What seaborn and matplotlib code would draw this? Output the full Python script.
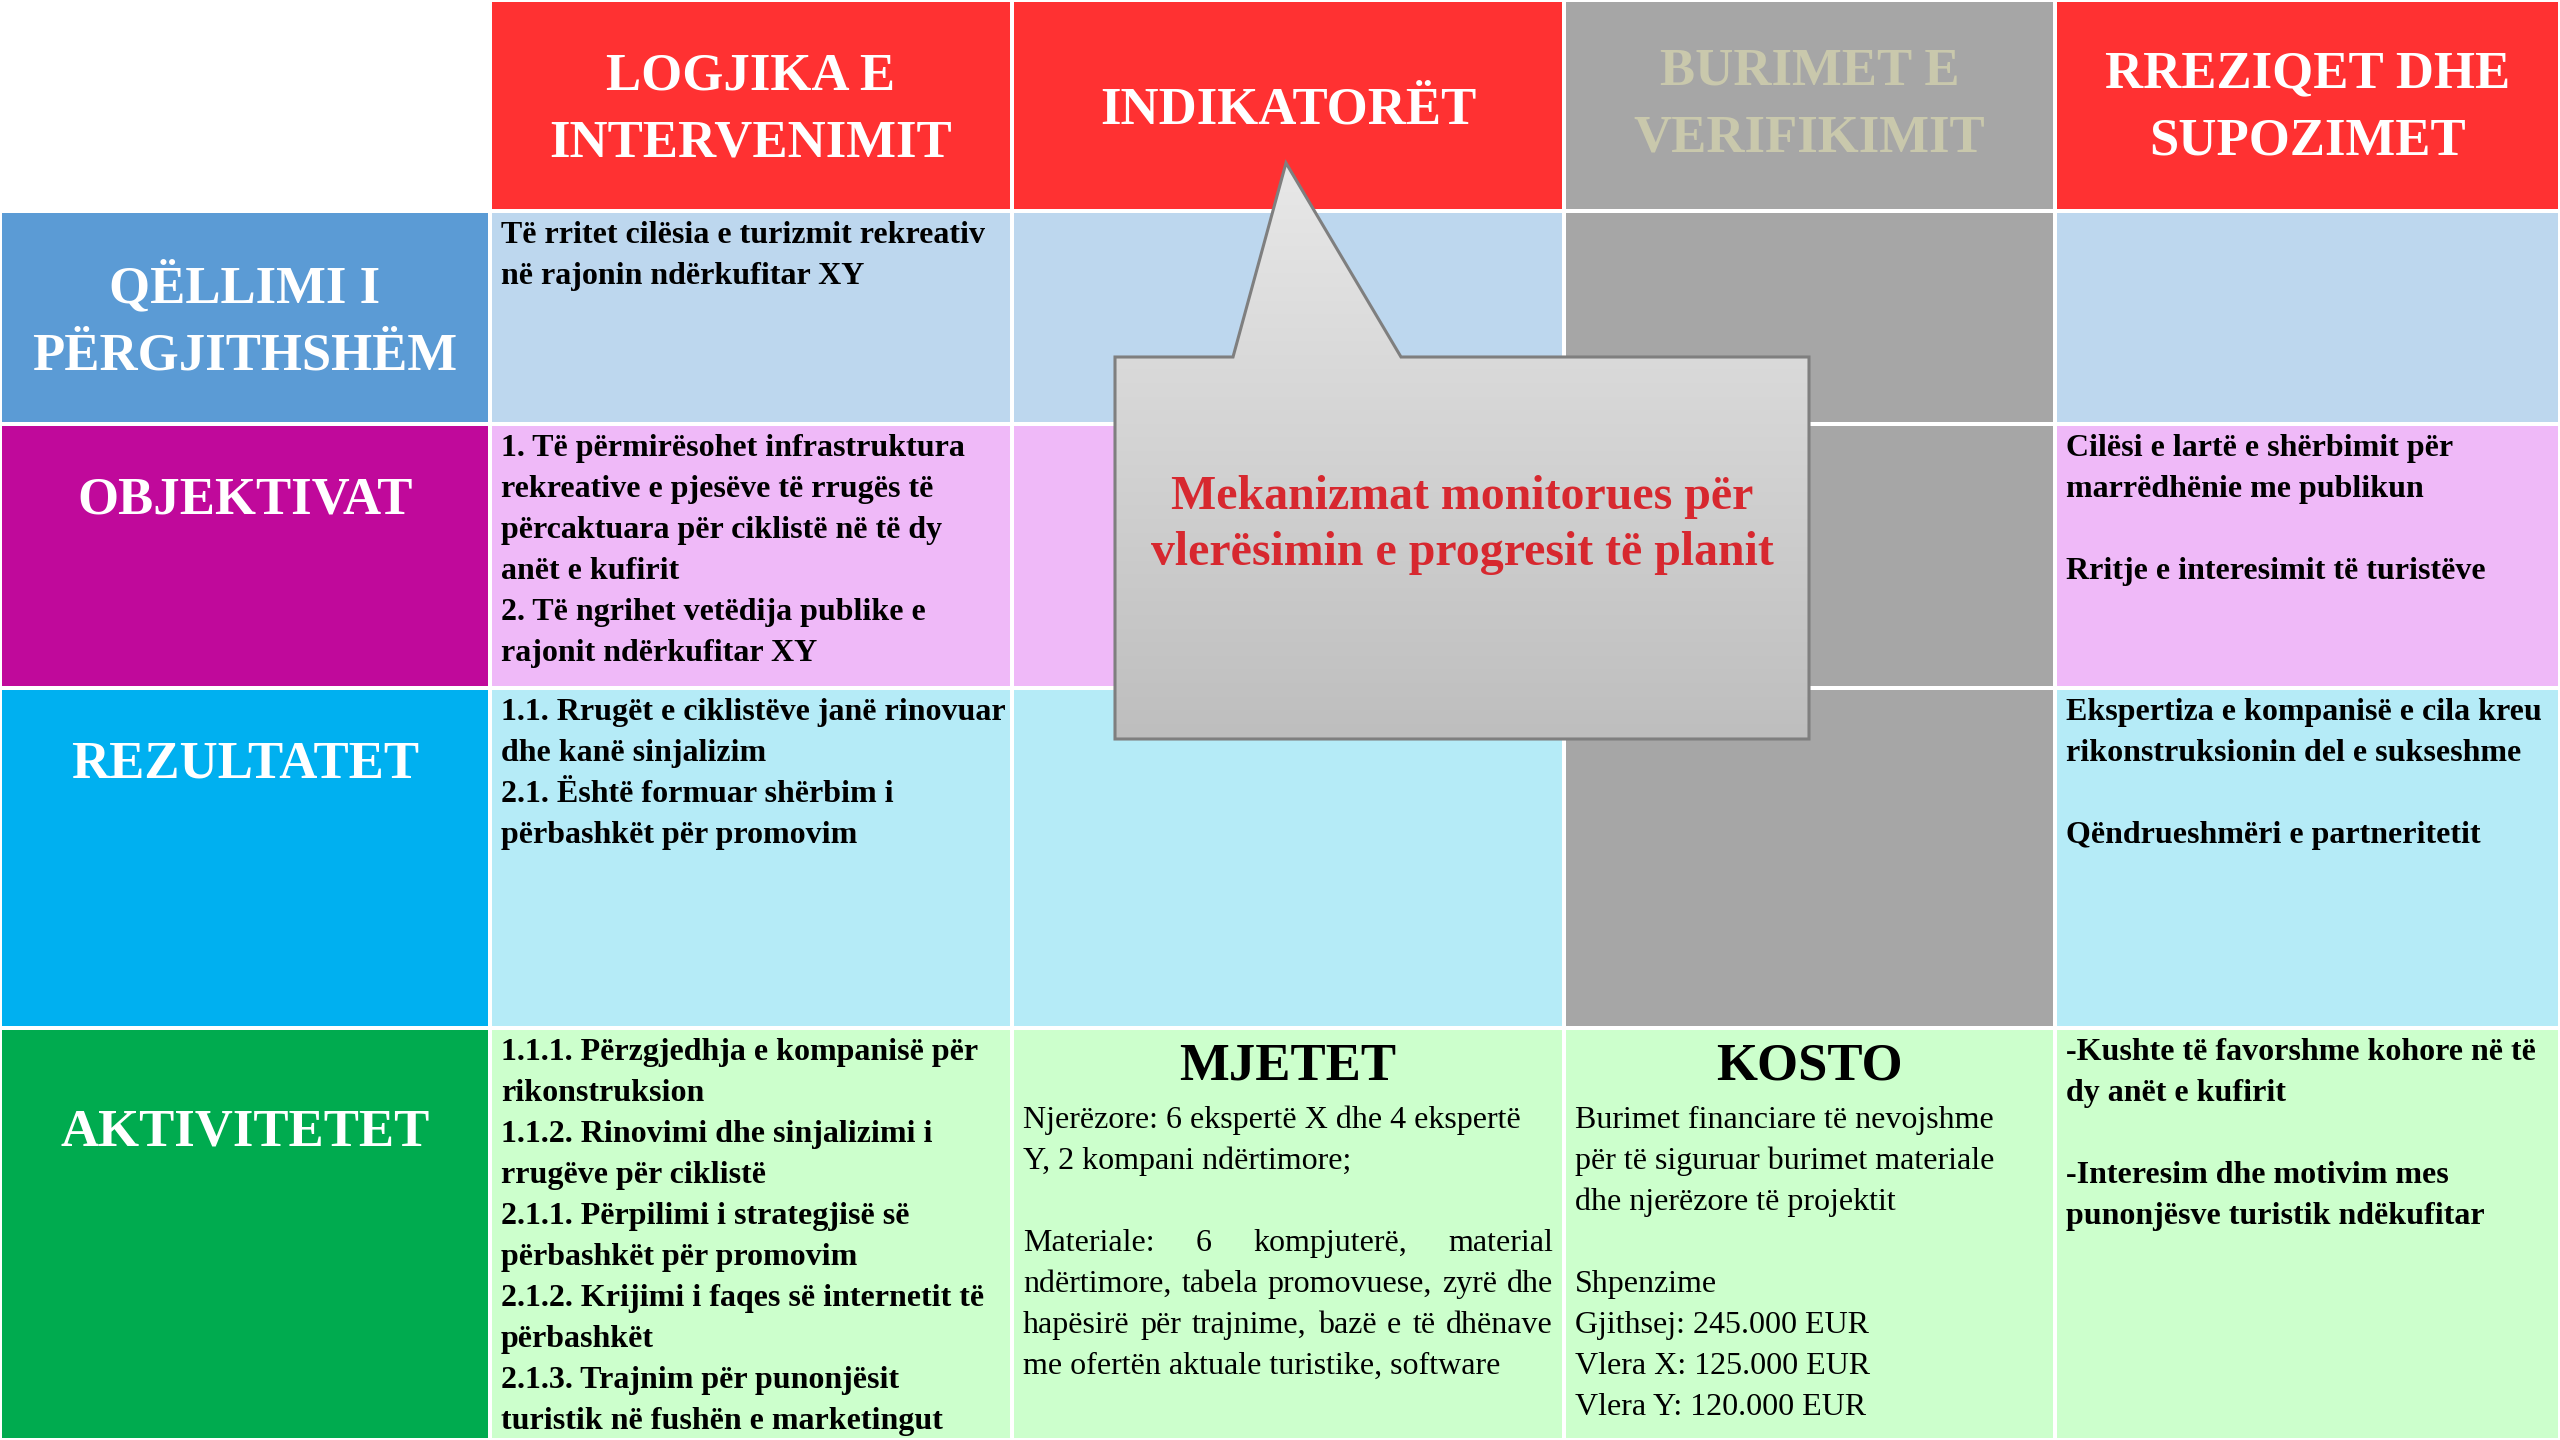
import numpy as np
import pandas as pd
import matplotlib
matplotlib.use("Agg")
import matplotlib.pyplot as plt
from matplotlib.patches import Rectangle, Polygon
import seaborn as sns

# ---------------- content ----------------
col_headers = ["LOGJIKA E\nINTERVENIMIT", "INDIKATORËT",
               "BURIMET E\nVERIFIKIMIT", "RREZIQET DHE\nSUPOZIMET"]
row_labels = ["QËLLIMI I\nPËRGJITHSHËM", "OBJEKTIVAT", "REZULTATET", "AKTIVITETET"]

intervention_logic = [
    "Të rritet cilësia e turizmit rekreativ\nnë rajonin ndërkufitar XY",
    "1. Të përmirësohet infrastruktura\nrekreative e pjesëve të rrugës të\n"
    "përcaktuara për ciklistë në të dy\nanët e kufirit\n"
    "2. Të ngrihet vetëdija publike e\nrajonit ndërkufitar XY",
    "1.1. Rrugët e ciklistëve janë rinovuar\ndhe kanë sinjalizim\n"
    "2.1. Është formuar shërbim i\npërbashkët për promovim",
    "1.1.1. Përzgjedhja e kompanisë për\nrikonstruksion\n"
    "1.1.2. Rinovimi dhe sinjalizimi i\nrrugëve për ciklistë\n"
    "2.1.1. Përpilimi i strategjisë së\npërbashkët për promovim\n"
    "2.1.2. Krijimi i faqes së internetit të\npërbashkët\n"
    "2.1.3. Trajnim për punonjësit\nturistik në fushën e marketingut",
]
assumptions = [
    "",
    "Cilësi e lartë e shërbimit për\nmarrëdhënie me publikun\n\nRritje e interesimit të turistëve",
    "Ekspertiza e kompanisë e cila kreu\nrikonstruksionin del e sukseshme\n\nQëndrueshmëri e partneritetit",
    "-Kushte të favorshme kohore në të\ndy anët e kufirit\n\n-Interesim dhe motivim mes\npunonjësve turistik ndëkufitar",
]

means_title = "MJETET"
means_text = ("Njerëzore: 6 ekspertë X dhe 4 ekspertë\nY, 2 kompani ndërtimore;\n\n"
              "Materiale: 6 kompjuterë, material\nndërtimore, tabela promovuese, zyrë dhe\n"
              "hapësirë për trajnime, bazë e të dhënave\nme ofertën aktuale turistike, software")
justified_lines = [3, 4, 5]   # lines of means_text set flush on both sides

cost_title = "KOSTO"
cost_intro = "Burimet financiare të nevojshme\npër të siguruar burimet materiale\ndhe njerëzore të projektit"
cost_labels = ["Gjithsej", "Vlera X", "Vlera Y"]
cost_values = [245000, 125000, 120000]
cost_text = cost_intro + "\n\nShpenzime\n" + "\n".join(
    f"{lab}: {val:,}".replace(",", ".") + " EUR" for lab, val in zip(cost_labels, cost_values))

indicators = ["", "", "", means_text]
verification = ["", "", "", cost_text]
block_titles = [None, means_title, cost_title, None]

callout_text = "Mekanizmat monitorues për\nvlerësimin e progresit të planit"

matrix = pd.DataFrame(dict(zip(col_headers, [intervention_logic, indicators, verification, assumptions])),
                      index=row_labels)

# ---------------- style ----------------
header_colors = ["#FF3132", "#FF3132", "#A6A6A6", "#FF3132"]
header_text_colors = ["white", "white", "#C9C8AC", "white"]
label_colors = ["#5B9BD5", "#C0099B", "#00B0F0", "#00AB4F"]
row_fill = ["#BDD7EE", "#EFB9F8", "#B5EBF7", "#CCFFCC"]
gray_fill = "#A6A6A6"
callout_red = "#D7282F"

# layout in pixels (figure is 2560 x 1440)
x_edges = [0, 490, 1012, 1564, 2055, 2560]
y_edges = [0, 211, 424, 688, 1028, 1440]
gap = 4
pad = 11
body_step = 41
big_step = 67
header_cy = [105, 105, 100, 103]
label_cy = [318, 495, 759, 1128]

sns.set_theme(style="white")
plt.rcParams["font.family"] = ["Liberation Serif", "DejaVu Serif"]

fig = plt.figure(figsize=(25.6, 14.4), dpi=100)
ax = fig.add_axes([0, 0, 1, 1])
ax.set_xlim(0, 2560)
ax.set_ylim(1440, 0)
ax.axis("off")
renderer = fig.canvas.get_renderer()


def cell(c, r, color):
    x0, x1 = x_edges[c] + gap / 2, x_edges[c + 1] - gap / 2
    y0, y1 = y_edges[r] + gap / 2, y_edges[r + 1] - gap / 2
    ax.add_patch(Rectangle((x0, y0), x1 - x0, y1 - y0, facecolor=color, edgecolor="none", zorder=1))


def draw_lines(x, y0, text, step, ha="left", zorder=3, **kw):
    for i, line in enumerate(text.split("\n")):
        if line:
            ax.text(x, y0 + i * step, line, ha=ha, va="baseline", zorder=zorder, **kw)


def draw_justified(x0, x1, y, line, **kw):
    words = line.split()
    texts = [ax.text(x0, y, w, ha="left", va="baseline", zorder=3, **kw) for w in words]
    widths = [t.get_window_extent(renderer).width for t in texts]
    space = (x1 - x0 - sum(widths)) / (len(words) - 1)
    pos = x0
    for t, w in zip(texts, widths):
        t.set_x(pos)
        pos += w + space


big = dict(fontsize=38, fontweight="bold")
body = dict(fontsize=23, fontweight="bold", color="black")
plain = dict(fontsize=23, fontweight="normal", color="black")

# header row
for c, head in enumerate(matrix.columns):
    cell(c + 1, 0, header_colors[c])
    n = head.count("\n") + 1
    cx = (x_edges[c + 1] + x_edges[c + 2]) / 2
    draw_lines(cx, header_cy[c] - (n - 1) * big_step / 2 + 18, head, big_step, ha="center",
               color=header_text_colors[c], **big)

# rows
for r, lab in enumerate(matrix.index):
    cell(0, r + 1, label_colors[r])
    n = lab.count("\n") + 1
    draw_lines(x_edges[1] / 2, label_cy[r] - (n - 1) * big_step / 2 + 18, lab, big_step,
               ha="center", color="white", **big)
    top = y_edges[r + 1]
    for c, head in enumerate(matrix.columns):
        fill = gray_fill if (c == 2 and r < 3) else row_fill[r]
        cell(c + 1, r + 1, fill)
        txt = matrix.loc[lab, head]
        if not txt:
            continue
        x0 = x_edges[c + 1] + pad
        if block_titles[c] and r == 3:
            cx = (x_edges[c + 1] + x_edges[c + 2]) / 2
            ax.text(cx, top + 51, block_titles[c], ha="center", va="baseline",
                    color="black", zorder=3, **big)
            for i, line in enumerate(txt.split("\n")):
                y = top + 100 + i * body_step
                if c == 1 and i in justified_lines:
                    draw_justified(x0, x_edges[c + 2] - pad, y, line, **plain)
                elif line:
                    ax.text(x0, y, line, ha="left", va="baseline", zorder=3, **plain)
        else:
            draw_lines(x0, top + 32, txt, body_step, **body)

# callout with vertical gradient
bx0, bx1, by0, by1 = 1115, 1809, 357, 739
tip = (1286, 163)
verts = [(bx0, by0), (1233, by0), tip, (1401, by0), (bx1, by0), (bx1, by1), (bx0, by1)]
shape = Polygon(verts, closed=True, facecolor="none", edgecolor="#7F7F7F", linewidth=2.2, zorder=6)
ax.add_patch(shape)
grad = np.linspace(0, 1, 256)[:, None]
img = ax.imshow(grad, cmap=sns.blend_palette(["#E8E8E8", "#BEBEBE"], as_cmap=True),
                extent=(bx0, bx1, by1, tip[1]), origin="upper", aspect="auto", zorder=5)
img.set_clip_path(shape)
ax.set_xlim(0, 2560)
ax.set_ylim(1440, 0)
draw_lines((bx0 + bx1) / 2, 509, callout_text, 56, ha="center", zorder=7,
           fontsize=34.5, fontweight="bold", color=callout_red)

fig.savefig("out.png", dpi=100)
